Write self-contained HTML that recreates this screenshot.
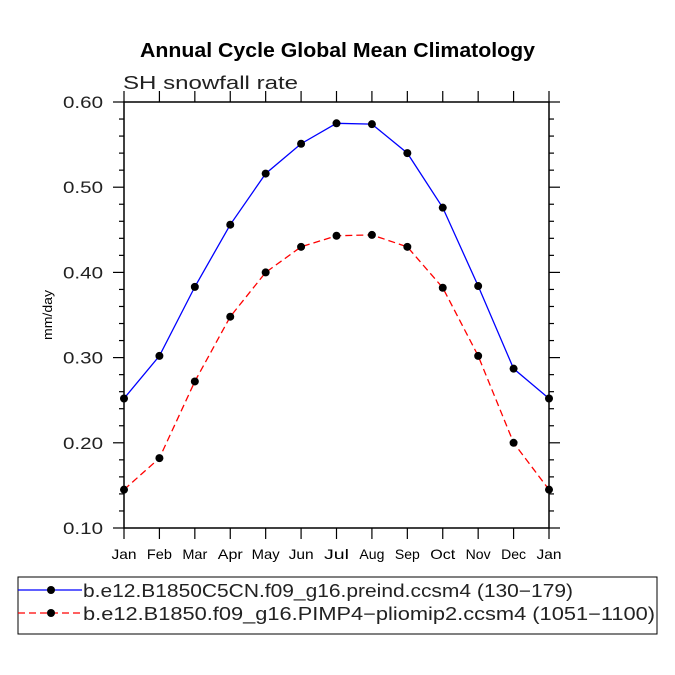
<!DOCTYPE html>
<html><head><meta charset="utf-8"><style>body{margin:0;background:#fff}svg{display:block}text{font-family:"Liberation Sans",sans-serif}</style></head>
<body>
<svg id="chart" width="675" height="675" viewBox="0 0 675 675" xmlns="http://www.w3.org/2000/svg">
<text x="140" y="57" font-size="20" font-weight="bold" textLength="395" lengthAdjust="spacingAndGlyphs">Annual Cycle Global Mean Climatology</text>
<text x="123" y="89" font-size="18" fill="#222" textLength="175" lengthAdjust="spacingAndGlyphs">SH snowfall rate</text>
<text transform="translate(52,315) rotate(-90)" text-anchor="middle" font-size="13" textLength="50" lengthAdjust="spacingAndGlyphs">mm/day</text>
<g id="axes"></g>
<g id="series"></g>
<rect x="18" y="577" width="639" height="57" fill="none" stroke="#000" stroke-width="1"/>
<g id="legend"></g>
</svg>
<script>
const months = ["Jan","Feb","Mar","Apr","May","Jun","Jul","Aug","Sep","Oct","Nov","Dec","Jan"];
const blueValues = [0.252,0.302,0.383,0.456,0.516,0.551,0.575,0.574,0.540,0.476,0.384,0.287,0.252];
const redValues = [0.145,0.182,0.272,0.348,0.400,0.430,0.443,0.444,0.430,0.382,0.302,0.200,0.145];
const yTicks = [0.10,0.20,0.30,0.40,0.50,0.60];
const legendLabels = ["b.e12.B1850C5CN.f09_g16.preind.ccsm4 (130\u2212179)","b.e12.B1850.f09_g16.PIMP4\u2212pliomip2.ccsm4 (1051\u22121100)"];
const legendWidths = [490,572];

const NS="http://www.w3.org/2000/svg";
const L=124,R=549,T=102,B=528;
const xs=i=>L+(R-L)*i/(months.length-1);
const ys=v=>B-(v-0.1)/(0.6-0.1)*(B-T);
function mk(tag,attrs,parent){const e=document.createElementNS(NS,tag);for(const k in attrs)e.setAttribute(k,attrs[k]);parent.appendChild(e);return e;}
const ax=document.getElementById('axes');
const frame=mk('rect',{x:L,y:T,width:R-L,height:B-T,fill:'none',stroke:'#000','stroke-width':1.5},ax);


months.forEach((m,i)=>{
  const x=xs(i);
  mk('line',{x1:x,x2:x,y1:B,y2:B+11,stroke:'#000','stroke-width':1.2},ax);
  mk('line',{x1:x,x2:x,y1:T,y2:T-11,stroke:'#000','stroke-width':1.2},ax);
  const t=mk('text',{x:x,y:B+31,'text-anchor':'middle','font-size':14,textLength:m==="May"?28:25,lengthAdjust:'spacingAndGlyphs'},ax);
  t.textContent=m;
  
  
});
for(let v=0.1;v<=0.6001;v+=0.02){
  const y=ys(v);const major=Math.abs((v*10)-Math.round(v*10))<0.01;const len=major?11:5;
  mk('line',{x1:L-len,x2:L,y1:y,y2:y,stroke:'#000','stroke-width':1.2},ax);
  mk('line',{x1:R,x2:R+len,y1:y,y2:y,stroke:'#000','stroke-width':1.2},ax);
}
yTicks.forEach(v=>{
  const t=mk('text',{x:L-21,y:ys(v)+6,'text-anchor':'end','font-size':17,fill:'#222',textLength:40,lengthAdjust:'spacingAndGlyphs'},ax);
  t.textContent=v.toFixed(2);
  
  
});
const sg=document.getElementById('series');
function series(vals,color,dash,name){
  const g=mk('g',{},sg);
  
  
  const pts=vals.map((v,i)=>xs(i)+','+ys(v)).join(' ');
  const attrs={points:pts,fill:'none',stroke:color,'stroke-width':1.3};
  if(dash)attrs['stroke-dasharray']=dash;
  mk('polyline',attrs,g);
  vals.forEach((v,i)=>{const c=mk('circle',{cx:xs(i),cy:ys(v),r:4,fill:'#000'},g);
    
    });
}
series(blueValues,'#0000ff',null,'series-preind');
series(redValues,'#ff0000','7,4','series-pliomip2');
const lg=document.getElementById('legend');
[['#0000ff',null],['#ff0000','7,4']].forEach((s,i)=>{
  const y=590+i*23;
  const g=mk('g',{},lg);
  
  
  const a={x1:18,x2:82,y1:y,y2:y,stroke:s[0],'stroke-width':1.3};if(s[1])a['stroke-dasharray']=s[1];
  mk('line',a,g);
  mk('circle',{cx:51,cy:y,r:4,fill:'#000'},g);
  const t=mk('text',{x:83,y:y+7,'font-size':18,fill:'#222',textLength:legendWidths[i],lengthAdjust:'spacingAndGlyphs'},g);
  t.textContent=legendLabels[i];
});
</script>
</body></html>
